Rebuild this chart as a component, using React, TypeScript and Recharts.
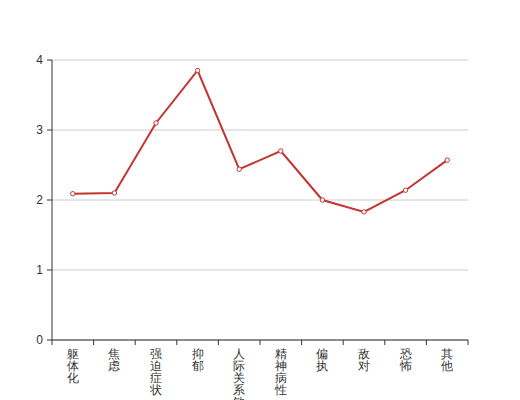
import { LineChart, Line, XAxis, YAxis, CartesianGrid } from 'recharts';

const categories = ['躯体化', '焦虑', '强迫症状', '抑郁', '人际关系敏感', '精神病性', '偏执', '敌对', '恐怖', '其他'];
const scores = [2.09, 2.1, 3.1, 3.85, 2.44, 2.7, 2.0, 1.83, 2.14, 2.57];
const yTicks = [0, 1, 2, 3, 4];

const data = categories.map((name, i) => ({ name, score: scores[i] }));

const AXIS = '#333';
const RED = '#c23531';
const HALF_BAND = 20.8;

// recharts hands the tick a y already pushed down by tickSize + margin, pull it back to the axis
function VerticalTick({ x, y, payload, index }: any) {
  const base = y - 8;
  const chars = String(payload.value).split('');
  const isLast = index === categories.length - 1;
  return (
    <g>
      <line x1={x - HALF_BAND} y1={base} x2={x - HALF_BAND} y2={base + 5} stroke={AXIS} />
      {isLast && <line x1={x + HALF_BAND} y1={base} x2={x + HALF_BAND} y2={base + 5} stroke={AXIS} />}
      <text textAnchor="middle" fill={AXIS} fontSize={12} fontFamily="sans-serif">
        {chars.map((c, i) => (
          <tspan key={i} x={x} y={base + 18 + i * 12}>
            {c}
          </tspan>
        ))}
      </text>
    </g>
  );
}

export default function App() {
  return (
    <div style={{ position: 'absolute', left: 0, top: 0 }}>
      <LineChart width={520} height={400} data={data} margin={{ top: 60, right: 52, left: 0, bottom: 0 }}>
        <CartesianGrid horizontal vertical={false} stroke="#ccc" />
        <XAxis
          dataKey="name"
          interval={0}
          height={60}
          padding={{ left: HALF_BAND, right: HALF_BAND }}
          axisLine={{ stroke: AXIS }}
          tickLine={false}
          tick={<VerticalTick />}
        />
        <YAxis
          domain={[0, 4]}
          ticks={yTicks}
          width={52}
          axisLine={{ stroke: AXIS }}
          tickLine={{ stroke: AXIS }}
          tickSize={5}
          tickMargin={4}
          tick={{ fill: AXIS, fontSize: 12, fontFamily: 'sans-serif' }}
        />
        <Line
          type="linear"
          dataKey="score"
          stroke={RED}
          strokeWidth={2}
          dot={{ r: 2.2, fill: '#fff', stroke: RED, strokeWidth: 1 }}
          isAnimationActive={false}
        />
      </LineChart>
    </div>
  );
}
